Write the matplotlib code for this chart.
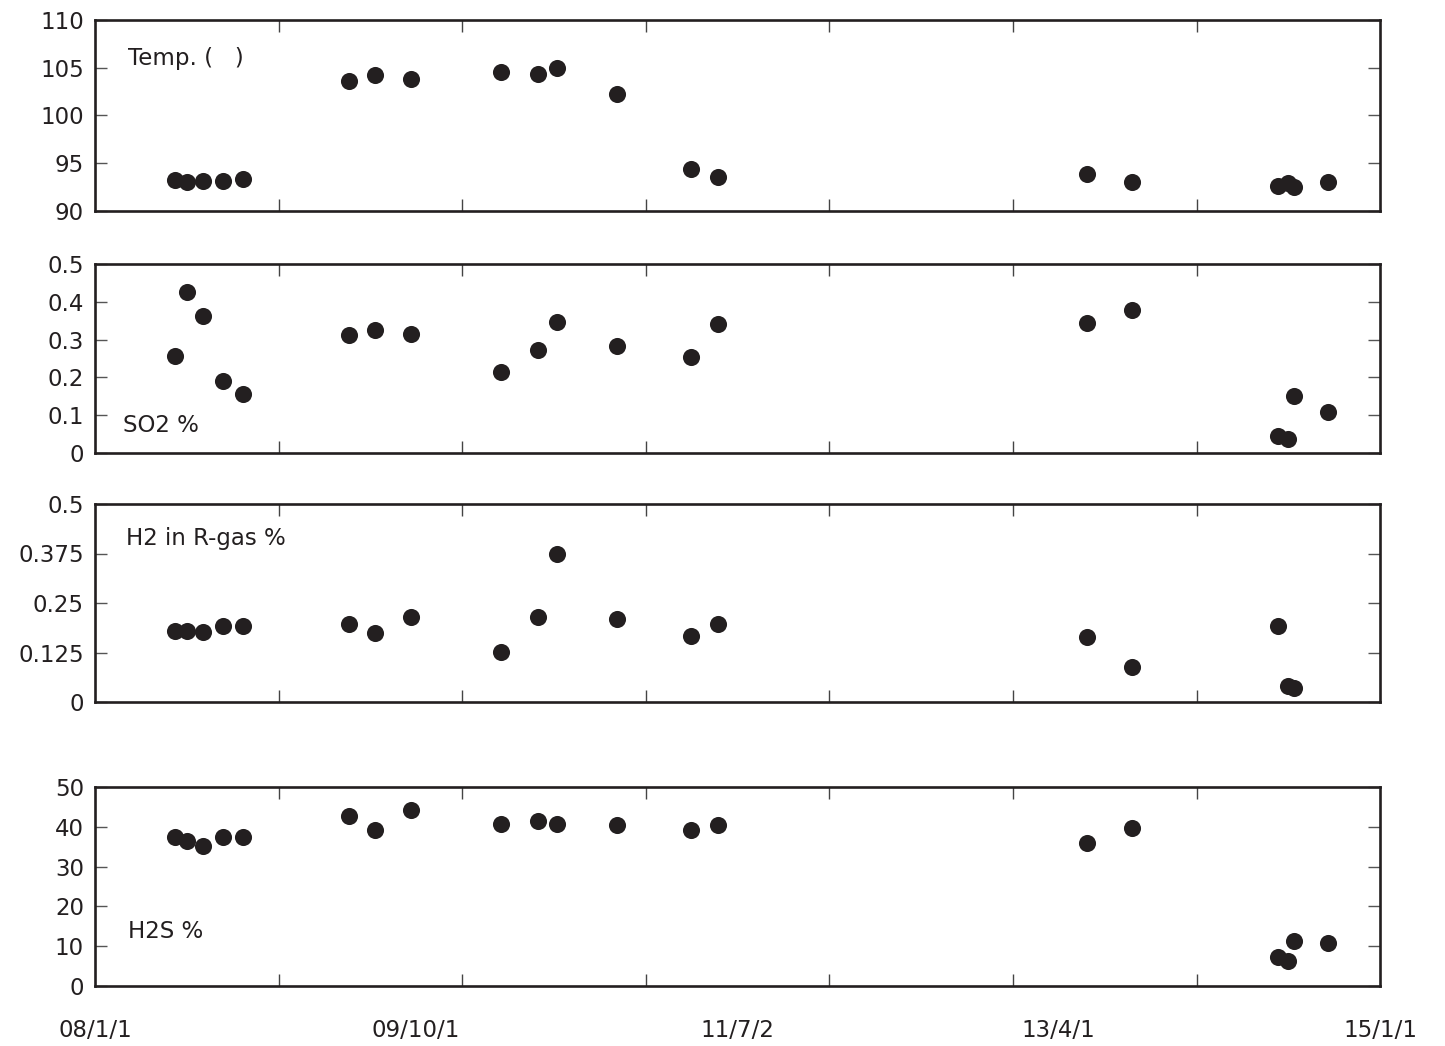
import numpy as np
import matplotlib
matplotlib.use("Agg")
import matplotlib.pyplot as plt
import matplotlib.dates as mdates

plt.rcParams['font.family'] = ['DejaVu Sans']

# ---- data ----
dates = ["2008-06-08", "2008-07-02", "2008-08-03", "2008-09-12", "2008-10-21",
         "2009-05-20", "2009-07-11", "2009-09-21", "2010-03-19", "2010-06-01",
         "2010-07-08", "2010-11-05", "2011-04-01", "2011-05-24", "2013-05-28",
         "2013-08-26", "2014-06-13", "2014-07-01", "2014-07-13", "2014-09-19"]

temp = [93.25, 93.0, 93.15, 93.15, 93.35,
        103.6, 104.2, 103.85, 104.6, 104.3,
        105.0, 102.2, 94.35, 93.6, 93.9,
        93.0, 92.6, 92.95, 92.5, 93.0]

so2 = [0.256, 0.426, 0.362, 0.191, 0.155,
       0.312, 0.325, 0.315, 0.213, 0.272,
       0.347, 0.284, 0.255, 0.342, 0.344,
       0.378, 0.045, 0.037, 0.151, 0.108]

h2 = [0.179, 0.179, 0.176, 0.191, 0.191,
      0.196, 0.173, 0.215, 0.127, 0.214,
      0.373, 0.209, 0.167, 0.196, 0.164,
      0.088, 0.192, 0.040, 0.035, np.nan]

h2s = [37.5, 36.5, 35.2, 37.4, 37.4,
       42.6, 39.1, 44.2, 40.7, 41.5,
       40.7, 40.5, 39.2, 40.5, 35.9,
       39.7, 7.3, 6.3, 11.3, 10.8]

panel_labels = ["Temp. (   )", "SO2 %", "H2 in R-gas %", "H2S %"]
ytick_vals = [[90, 95, 100, 105, 110],
              [0, 0.1, 0.2, 0.3, 0.4, 0.5],
              [0, 0.125, 0.25, 0.375, 0.5],
              [0, 10, 20, 30, 40, 50]]
ytick_labels = [["90", "95", "100", "105", "110"],
                ["0", "0.1", "0.2", "0.3", "0.4", "0.5"],
                ["0", "0.125", "0.25", "0.375", "0.5"],
                ["0", "10", "20", "30", "40", "50"]]
xlabel_dates = ["2008-01-01", "2009-10-01", "2011-07-02", "2013-04-01", "2015-01-01"]
xlabel_text = ["08/1/1", "09/10/1", "11/7/2", "13/4/1", "15/1/1"]
year_ticks = ["2009-01-01", "2010-01-01", "2011-01-01", "2012-01-01", "2013-01-01", "2014-01-01"]

# ---- figure ----
W, H = 1445, 1046
fig = plt.figure(figsize=(W / 100, H / 100), dpi=100)
ink = "#231f20"

x = mdates.datestr2num(dates)
xmin = mdates.datestr2num("2008-01-01")
xmax = mdates.datestr2num("2015-01-01")

# panel boxes in pixels: (top, bottom)
boxes = [(20, 211), (264, 453), (504, 702), (787, 986)]
left_px, right_px = 95, 1380
series = [temp, so2, h2, h2s]
label_pos = [(128, 58), (123, 426), (126, 538), (128, 932)]

for i, (top, bot) in enumerate(boxes):
    ax = fig.add_axes([left_px / W, 1 - bot / H, (right_px - left_px) / W, (bot - top) / H])
    ax.plot(x, series[i], 'o', color=ink, ms=12.3, mew=0, linestyle='none', clip_on=False)
    ax.set_xlim(xmin, xmax)
    ax.set_ylim(ytick_vals[i][0], ytick_vals[i][-1])
    ax.set_yticks(ytick_vals[i])
    ax.set_yticklabels(ytick_labels[i])
    for s in ax.spines.values():
        s.set_linewidth(1.9)
        s.set_color(ink)
    ax.tick_params(axis='y', which='both', direction='in', length=8.5, width=1.0,
                   color='#555555', left=True, right=True, labelsize=16.5, pad=8,
                   labelcolor=ink)
    # yearly tick marks (no labels)
    ax.set_xticks(mdates.datestr2num(year_ticks), minor=True)
    ax.tick_params(axis='x', which='minor', direction='in', length=8.5, width=1.0,
                   color='#444444', top=True, bottom=True)
    # label positions
    ax.set_xticks(mdates.datestr2num(xlabel_dates))
    if i == 3:
        ax.set_xticklabels(xlabel_text)
        ax.tick_params(axis='x', which='major', length=0, labelsize=16.5, pad=24,
                       labelcolor=ink)
    else:
        ax.set_xticklabels([])
        ax.tick_params(axis='x', which='major', length=0)
    lx, ly = label_pos[i]
    fig.text(lx / W, 1 - ly / H, panel_labels[i], fontsize=16.5, color=ink,
             ha='left', va='center')

fig.savefig("out.png", dpi=100)
